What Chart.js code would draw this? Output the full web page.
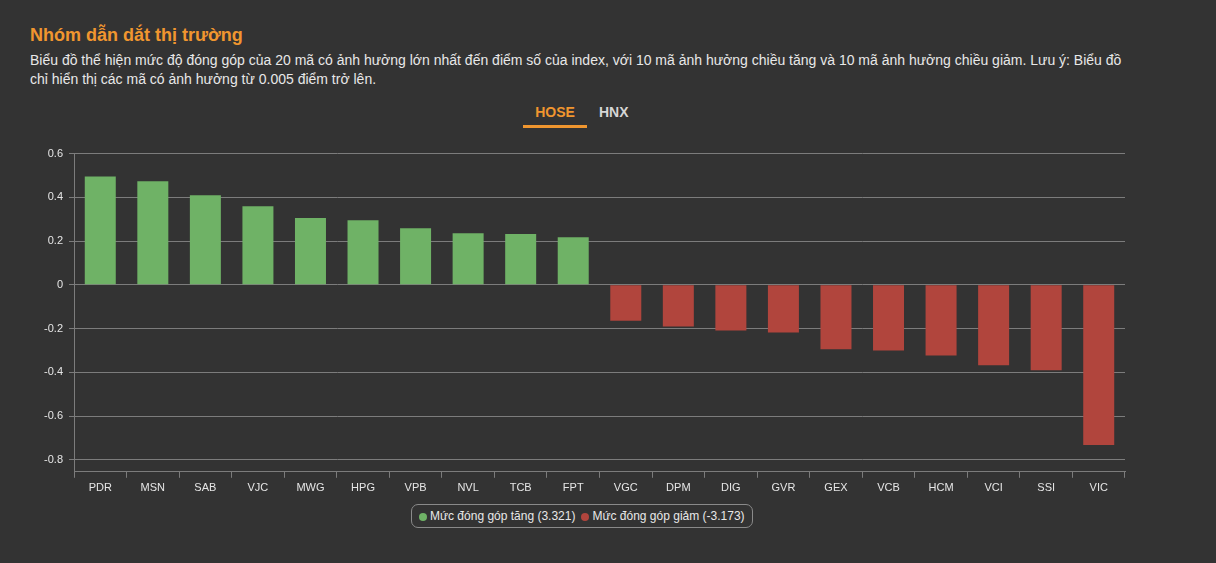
<!DOCTYPE html>
<html>
<head>
<meta charset="utf-8">
<script src="https://cdn.jsdelivr.net/npm/chart.js@4"></script>
<style>
    body { margin: 0; background: #333333; font-family: 'Liberation Sans', Arial, sans-serif; color: #e6e6e6; }
    .title { position: absolute; left: 30px; top: 25px; font-size: 18px; font-weight: bold; color: #f0962f; }
    .desc { position: absolute; left: 30px; top: 51px; width: 1110px; font-size: 14px; line-height: 19px; color: #e8e8e8; }
    .tabs { position: absolute; top: 104px; left: 523px; font-size: 14px; font-weight: bold; }
    .tab { position: absolute; top: 0; white-space: nowrap; }
    .tab.active { color: #f0962f; left: 0; width: 64px; text-align: center; }
    .tab.active::after { content: ''; position: absolute; left: 0; top: 21px; width: 64px; height: 3px; background: #f0962f; }
    .tab.off { color: #d6d6d6; left: 76px; }
    .chart-box { position: absolute; left: 30px; top: 141px; width: 1096px; height: 358px; }
    .legend { position: absolute; top: 504px; left: 411px; height: 22px; padding: 0 7px; border: 1px solid #8a8a8a; border-radius: 7px;
              font-size: 12px; color: #e8e8e8; display: flex; align-items: center; gap: 6px; white-space: nowrap; }
    .legend span.dot { display: inline-block; width: 8px; height: 8px; border-radius: 50%; margin-right: 3px; vertical-align: middle; }
</style>
</head>
<body>
<div class="title">Nhóm dẫn dắt thị trường</div>
<div class="desc">Biểu đồ thể hiện mức độ đóng góp của 20 mã có ảnh hưởng lớn nhất đến điểm số của index, với 10 mã ảnh hưởng chiều tăng và 10 mã ảnh hưởng chiều giảm. Lưu ý: Biểu đồ chỉ hiển thị các mã có ảnh hưởng từ 0.005 điểm trở lên.</div>
<div class="tabs"><div class="tab active">HOSE</div><div class="tab off">HNX</div></div>
<div class="chart-box"><canvas id="chart-canvas"></canvas></div>
<div class="legend" id="legend"></div>
<script>
const tickers = ['PDR', 'MSN', 'SAB', 'VJC', 'MWG', 'HPG', 'VPB', 'NVL', 'TCB', 'FPT',
    'VGC', 'DPM', 'DIG', 'GVR', 'GEX', 'VCB', 'HCM', 'VCI', 'SSI', 'VIC'];
const upValues = [0.495, 0.473, 0.409, 0.359, 0.305, 0.295, 0.259, 0.236, 0.232, 0.218,
    null, null, null, null, null, null, null, null, null, null];
const downValues = [null, null, null, null, null, null, null, null, null, null,
    -0.164, -0.191, -0.209, -0.218, -0.295, -0.300, -0.323, -0.368, -0.391, -0.732];
const upLabel = 'Mức đóng góp tăng (3.321)';
const downLabel = 'Mức đóng góp giảm (-3.173)';
const yTicks = [0.6, 0.4, 0.2, 0, -0.2, -0.4, -0.6, -0.8];

const upColor = '#6fb266';
const downColor = '#b1453d';
const gridColor = '#7c7c7c';
const textColor = '#e6e6e6';

document.getElementById('legend').innerHTML = `
    <div><span class="dot" style="background:${upColor}"></span>${upLabel}</div>
    <div><span class="dot" style="background:${downColor}"></span>${downLabel}</div>`;

const ctx = document.getElementById('chart-canvas').getContext('2d');
new Chart(ctx, {
    type: 'bar',
    data: {
        labels: tickers,
        datasets: [
            { label: upLabel, data: upValues, backgroundColor: upColor, borderWidth: 0 },
            { label: downLabel, data: downValues, backgroundColor: downColor, borderWidth: 0 }
        ]
    },
    options: {
        responsive: true,
        maintainAspectRatio: false,
        animation: false,
        grouped: false,
        barPercentage: 0.59,
        categoryPercentage: 1,
        layout: { padding: { top: 4, right: 1 } },
        plugins: { legend: { display: false }, tooltip: { enabled: false } },
        scales: {
            x: {
                grid: { display: true, drawOnChartArea: false, drawTicks: true, tickLength: 6, color: gridColor, offset: true },
                border: { color: gridColor },
                ticks: { color: textColor, font: { family: 'Liberation Sans', size: 11 }, padding: 4, maxRotation: 0 }
            },
            y: {
                min: -0.855,
                max: 0.6,
                afterBuildTicks: (scale) => { scale.ticks = yTicks.map(v => ({ value: v })); },
                afterFit: (scale) => { scale.width = 44; },
                grid: { color: gridColor, tickLength: 5 },
                border: { color: gridColor },
                ticks: { color: textColor, font: { family: 'Liberation Sans', size: 11 }, padding: 6,
                    callback: (v) => `${Math.round(v * 10) / 10}` }
            }
        }
    }
});
</script>
</body>
</html>
